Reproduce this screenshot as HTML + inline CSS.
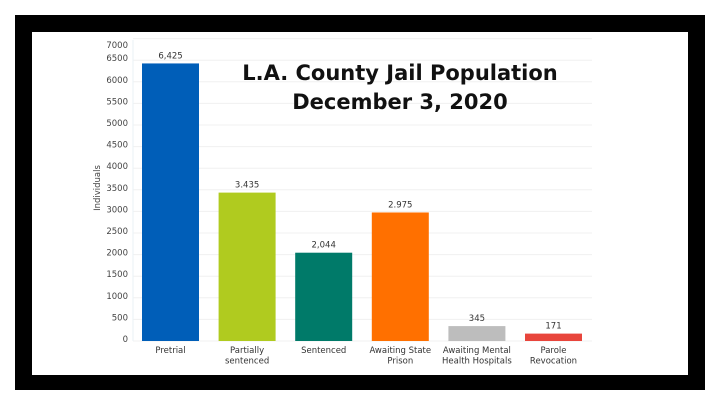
<!DOCTYPE html>
<html><head><meta charset="utf-8"><style>
body{margin:0;background:#fff;width:720px;height:405px;overflow:hidden;font-family:"DejaVu Sans","Liberation Sans",sans-serif}
#frame{position:absolute;left:15px;top:15px;width:690px;height:375px;background:#000}
#inner{position:absolute;left:32px;top:32px;width:656px;height:343px;background:#fff}
svg{position:absolute;left:0;top:0}
</style></head><body>
<div id="frame"></div>
<div id="inner"></div>
<svg id="chart" width="720" height="405"></svg>
<script>
const categories=[["Pretrial"],["Partially","sentenced"],["Sentenced"],["Awaiting State","Prison"],["Awaiting Mental","Health Hospitals"],["Parole","Revocation"]];
const values=[6425,3435,2044,2975,345,171];
const valueLabels=["6,425","3.435","2,044","2.975","345","171"];
const colors=["#005EB8","#B0CB1F","#007A69","#FF7000","#BDBDBD","#E8453C"];
const ticks=[0,500,1000,1500,2000,2500,3000,3500,4000,4500,5000,5500,6000,6500,7000];
const NS="http://www.w3.org/2000/svg";
const svg=document.getElementById('chart');
const y0=341,pxPer=0.0432;
const y=v=>y0-v*pxPer;
const bx=i=>142+i*76.6;
const bw=57;
function el(t,a){const e=document.createElementNS(NS,t);for(const k in a)e.setAttribute(k,a[k]);svg.appendChild(e);return e;}
ticks.forEach(t=>{
 const g=el('line',{x1:133,x2:592,y1:y(t),y2:y(t),stroke:'#f0f0f0','stroke-width':1});
 
 
 const ly=Math.max(y(t)+1,48);
 const l=el('text',{x:128,y:ly,'text-anchor':'end','font-size':'8.5','fill':'#444'});
 l.textContent=t;
 
 
});
const ax=el('line',{x1:133,x2:133,y1:40,y2:341,stroke:'#eaf2f6'});


const yt=el('text',{x:0,y:0,transform:'translate(100,188) rotate(-90)','text-anchor':'middle','font-size':'8.5','fill':'#444'});
yt.textContent='Individuals';


values.forEach((v,i)=>{
 const r=el('rect',{x:bx(i),y:y(v),width:bw,height:y0-y(v),fill:colors[i]});
 
 
 const t=el('text',{x:bx(i)+bw/2,y:y(v)-5,'text-anchor':'middle','font-size':'8.5','fill':'#333'});
 t.textContent=valueLabels[i];
 
 
 categories[i].forEach((ln,j)=>{
  const c=el('text',{x:bx(i)+bw/2,y:353+j*10.5,'text-anchor':'middle','font-size':'8.5','fill':'#333'});
  c.textContent=ln;
  
  
 });
});
['L.A. County Jail Population','December 3, 2020'].forEach((s,j)=>{
 const t=el('text',{x:400,y:80+j*29,'text-anchor':'middle','font-size':'21','font-weight':'bold','fill':'#111'});
 t.textContent=s;
 
 
});
</script>
</body></html>
